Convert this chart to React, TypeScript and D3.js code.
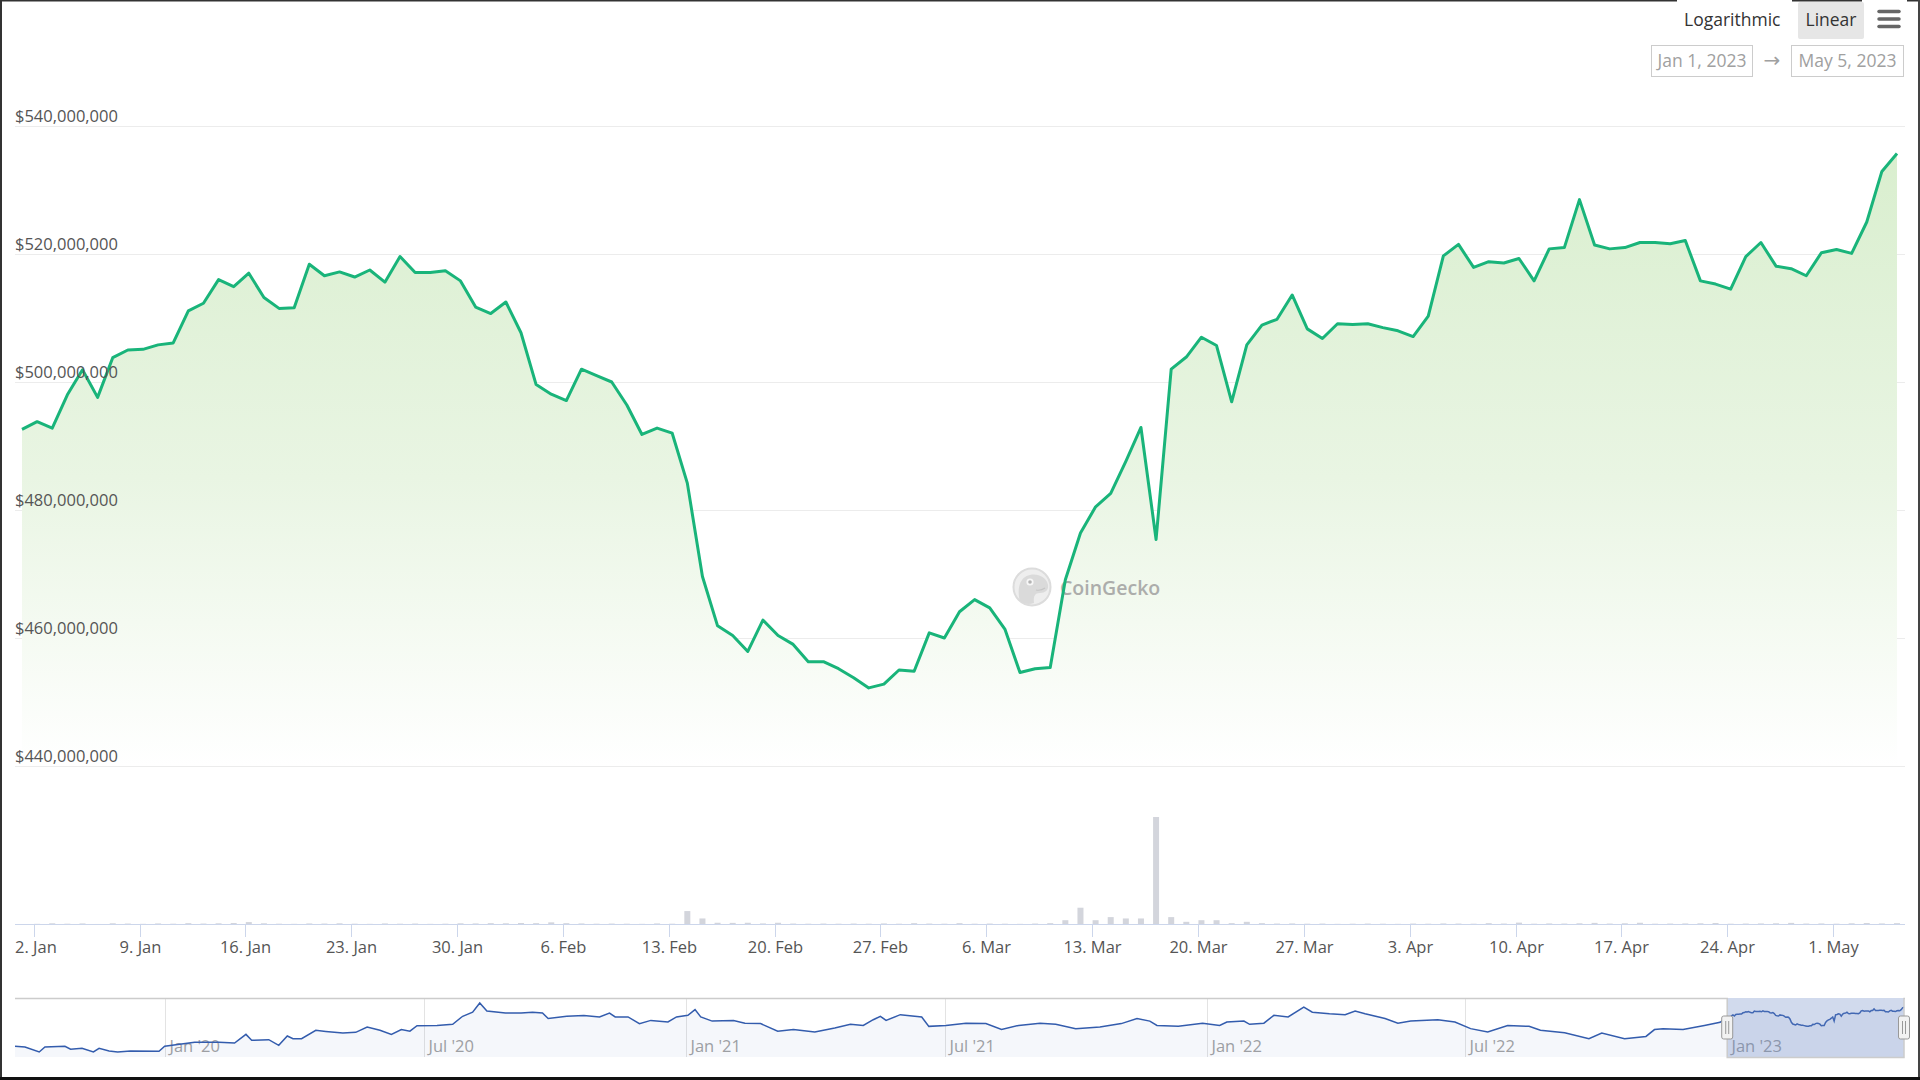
import React from "react";
import * as d3 from "d3";

// ---------- DATA ----------
const START_DATE = "2023-01-01";
// Market cap in $ millions, one value per day (Jan 1 – May 5, 2023)
const marketCapM = [
  // Jan
  492.6, 493.8, 492.8, 498.0, 501.9, 497.6, 503.8, 505.0, 505.1, 505.8, 506.1, 511.1, 512.3, 516.0, 514.9, 517.0,
  513.2, 511.5, 511.6, 518.4, 516.6, 517.2, 516.4, 517.5, 515.6, 519.6, 517.1, 517.1, 517.4, 515.8, 511.7,
  // Feb
  510.7, 512.5, 507.7, 499.6, 498.1, 497.1, 502.0, 501.0, 500.0, 496.4, 491.8, 492.8, 492.0, 484.2, 469.6, 461.9,
  460.4, 457.9, 462.8, 460.4, 459.0, 456.3, 456.3, 455.2, 453.8, 452.2, 452.8, 455.0,
  // Mar
  454.8, 460.8, 460.0, 464.1, 466.0, 464.7, 461.4, 454.6, 455.2, 455.4, 469.1, 476.4, 480.5, 482.6, 487.6, 492.9,
  475.4, 502.0, 503.9, 507.0, 505.7, 496.9, 505.8, 508.9, 509.8, 513.6, 508.3, 506.8, 509.1, 509.0, 509.1,
  // Apr
  508.5, 508.0, 507.1, 510.3, 519.7, 521.5, 517.9, 518.8, 518.6, 519.3, 515.8, 520.8, 521.0, 528.5, 521.4, 520.8,
  521.0, 521.8, 521.8, 521.6, 522.1, 515.8, 515.3, 514.5, 519.6, 521.8, 518.1, 517.7, 516.6, 520.2,
  // May
  520.7, 520.1, 525.0, 532.9, 535.7,
];
// Volume in $ millions, one value per day
const volumeM = [
  0.3, 0.5, 0.9, 0.6, 0.8, 0.4, 0.9, 0.7, 0.5, 0.8, 0.6, 1.0, 0.7, 0.9, 1.1, 1.8, 0.9, 0.6, 0.5, 0.8, 0.7, 0.9,
  0.6, 0.5, 0.8, 0.6, 0.7, 0.5, 0.6, 0.9, 0.8,
  1.0, 0.9, 1.1, 1.0, 1.6, 1.0, 0.8, 0.6, 0.7, 0.6, 0.5, 0.8, 0.6, 10.0, 4.5, 1.3, 1.2, 1.3, 0.8, 1.3, 0.7, 0.6,
  0.7, 0.6, 0.7, 0.6, 0.8, 0.6,
  1.0, 0.7, 0.6, 1.0, 0.6, 0.7, 0.6, 0.5, 0.7, 1.0, 3.2, 12.5, 3.2, 5.5, 4.5, 4.5, 80.0, 5.5, 2.0, 3.2, 3.2, 1.0,
  2.0, 1.0, 0.7, 0.8, 0.6, 0.7, 0.5, 0.6, 0.7,
  0.6, 0.5, 0.7, 0.6, 0.8, 0.7, 0.6, 1.0, 0.7, 1.4, 0.6, 0.8, 0.7, 0.9, 1.2, 0.7, 0.9, 1.3, 0.6, 0.7, 0.8, 0.9,
  1.1, 0.6, 0.7, 0.8, 0.9, 1.2, 0.7, 0.8,
  0.6, 0.9, 1.1, 0.8, 1.0,
];
const yTicksM = [440, 460, 480, 500, 520, 540];
const xTickDates = [
  "2023-01-02", "2023-01-09", "2023-01-16", "2023-01-23", "2023-01-30", "2023-02-06", "2023-02-13", "2023-02-20",
  "2023-02-27", "2023-03-06", "2023-03-13", "2023-03-20", "2023-03-27", "2023-04-03", "2023-04-10", "2023-04-17",
  "2023-04-24", "2023-05-01",
];
const xTickLabels = [
  "2. Jan", "9. Jan", "16. Jan", "23. Jan", "30. Jan", "6. Feb", "13. Feb", "20. Feb", "27. Feb", "6. Mar",
  "13. Mar", "20. Mar", "27. Mar", "3. Apr", "10. Apr", "17. Apr", "24. Apr", "1. May",
];
// Navigator history before 2023 (market cap, $ millions)
const navDates = [
  "2019-09-18", "2019-09-25", "2019-10-05", "2019-10-09", "2019-10-23", "2019-10-27", "2019-11-04", "2019-11-12",
  "2019-11-16", "2019-11-23", "2019-11-29", "2019-12-08", "2019-12-28", "2020-01-01", "2020-01-22", "2020-02-08",
  "2020-02-19", "2020-02-27", "2020-03-02", "2020-03-14", "2020-03-21", "2020-03-27", "2020-03-31", "2020-04-06",
  "2020-04-16", "2020-04-23", "2020-05-05", "2020-05-14", "2020-05-22", "2020-05-31", "2020-06-08", "2020-06-15",
  "2020-06-21", "2020-06-26", "2020-07-10", "2020-07-21", "2020-07-28", "2020-08-04", "2020-08-09", "2020-08-14",
  "2020-08-27", "2020-09-07", "2020-09-15", "2020-09-22", "2020-09-26", "2020-10-09", "2020-10-21", "2020-11-01",
  "2020-11-08", "2020-11-12", "2020-11-21", "2020-11-29", "2020-12-07", "2020-12-19", "2020-12-25", "2021-01-02",
  "2021-01-07", "2021-01-11", "2021-01-19", "2021-02-03", "2021-02-11", "2021-02-22", "2021-03-06", "2021-03-17",
  "2021-04-01", "2021-04-15", "2021-04-26", "2021-05-05", "2021-05-12", "2021-05-17", "2021-05-21", "2021-05-31",
  "2021-06-15", "2021-06-20", "2021-07-02", "2021-07-16", "2021-07-30", "2021-08-10", "2021-08-22", "2021-09-06",
  "2021-09-17", "2021-10-01", "2021-10-18", "2021-11-02", "2021-11-13", "2021-11-22", "2021-11-27", "2021-12-12",
  "2021-12-29", "2022-01-10", "2022-01-15", "2022-01-27", "2022-01-31", "2022-02-10", "2022-02-17", "2022-02-27",
  "2022-03-10", "2022-03-16", "2022-03-28", "2022-04-08", "2022-04-15", "2022-04-22", "2022-05-06", "2022-05-15",
  "2022-05-24", "2022-06-12", "2022-06-24", "2022-07-05", "2022-07-17", "2022-07-31", "2022-08-15", "2022-08-23",
  "2022-09-09", "2022-09-26", "2022-10-05", "2022-10-21", "2022-11-05", "2022-11-11", "2022-11-17", "2022-12-01",
  "2022-12-16", "2022-12-27",
];
const navValuesM = [
  365, 362, 340, 362, 365, 352, 356, 340, 356, 344, 340, 344, 343, 365, 383, 383,
  379, 417, 391, 394, 369, 410, 398, 398, 435, 430, 423, 426, 449, 435, 417, 438,
  431, 455, 456, 461, 496, 514, 554, 519, 510, 510, 514, 510, 486, 496, 499, 493,
  510, 493, 493, 464, 478, 471, 493, 500, 525, 493, 475, 478, 466, 464, 431, 438,
  427, 445, 461, 456, 481, 496, 478, 503, 493, 452, 456, 466, 464, 438, 456, 466,
  461, 442, 449, 464, 486, 475, 456, 452, 466, 456, 471, 475, 461, 466, 500, 493,
  536, 514, 507, 503, 519, 507, 486, 466, 475, 481, 471, 442, 427, 456, 452, 435,
  424, 398, 423, 398, 408, 438, 442, 438, 456, 470,
];
const navTickDates = ["2020-01-01", "2020-07-01", "2021-01-01", "2021-07-01", "2022-01-01", "2022-07-01", "2023-01-01"];
const navTickLabels = ["Jan '20", "Jul '20", "Jan '21", "Jul '21", "Jan '22", "Jul '22", "Jan '23"];
const rangeFrom = "2023-01-01";
const rangeTo = "2023-05-05";

// ---------- HELPERS ----------
const parse = (s: string) => new Date(s + "T00:00:00Z");
const DAY = 86400000;
const TZ_SHIFT = 5.5 * 3600000; // ticks fall on local midnight
const FONT = "'Open Sans', 'Noto Sans', sans-serif";

export default function App() {
  const start = parse(START_DATE);
  const mainData = marketCapM.map((v, i) => ({ date: new Date(start.getTime() + i * DAY), v }));
  const volData = volumeM.map((v, i) => ({ date: new Date(start.getTime() + i * DAY), v }));

  const x = d3.scaleUtc().domain([mainData[0].date, mainData[mainData.length - 1].date]).range([22, 1897]);
  const y = d3.scaleLinear().domain([440, 540]).range([766, 126]);
  const yVol = d3.scaleLinear().domain([0, 80]).range([924.5, 817]);

  const line = d3.line<{ date: Date; v: number }>().x((d) => x(d.date)).y((d) => y(d.v));
  const area = d3
    .area<{ date: Date; v: number }>()
    .x((d) => x(d.date))
    .y0(766)
    .y1((d) => y(d.v));

  const navData = navDates.map((d, i) => ({ date: parse(d), v: navValuesM[i] })).concat(mainData);
  const navX = d3.scaleUtc().domain([parse("2019-09-18"), parse("2023-05-05")]).range([15, 1904]);
  const navY = d3.scaleLinear().domain(d3.extent(navData, (d) => d.v) as [number, number]).range([1052, 1003]);
  const navLine = d3.line<{ date: Date; v: number }>().x((d) => navX(d.date)).y((d) => navY(d.v));
  const navArea = d3
    .area<{ date: Date; v: number }>()
    .x((d) => navX(d.date))
    .y0(1057)
    .y1((d) => navY(d.v));

  const fmt = d3.format(",");
  const mx0 = navX(parse(rangeFrom));
  const mx1 = navX(parse(rangeTo));
  const navTop = 998;
  const navBottom = 1057;

  const handle = (cx: number, key: string) => (
    <g key={key}>
      <rect x={cx - 5.5} y={1016} width={11} height={23} rx={2} fill="#f2f2f2" stroke="#999" strokeWidth={1} />
      <line x1={cx - 1.5} x2={cx - 1.5} y1={1021} y2={1034} stroke="#999" strokeWidth={1} />
      <line x1={cx + 1.5} x2={cx + 1.5} y1={1021} y2={1034} stroke="#999" strokeWidth={1} />
    </g>
  );

  return (
    <div style={{ position: "absolute", left: 0, top: 0 }}>
      <svg width={1920} height={1080} style={{ display: "block", fontFamily: FONT }}>
        <defs>
          <linearGradient id="gfill" gradientUnits="userSpaceOnUse" x1={0} y1={126} x2={0} y2={766}>
            <stop offset="0" stopColor="#d8eecd" />
            <stop offset="0.55" stopColor="#e9f5e3" />
            <stop offset="1" stopColor="#ffffff" />
          </linearGradient>
        </defs>
        <rect x={0} y={0} width={1920} height={1080} fill="#fff" />

        {/* gridlines */}
        {yTicksM.map((t) => (
          <line key={"g" + t} x1={15} x2={1905} y1={Math.round(y(t)) + 0.5} y2={Math.round(y(t)) + 0.5} stroke="#ececec" strokeWidth={1} />
        ))}

        {/* area + watermark + line */}
        <path d={area(mainData) || ""} fill="url(#gfill)" />

        <g opacity={0.85}>
          <circle cx={1032} cy={587} r={18.5} fill="#ececec" stroke="#d6d6d6" strokeWidth={2} />
          <path
            d="M1020 601 C1017 590 1019 577 1030 575 C1040 573 1047 579 1048 585 C1049 590 1045 593 1040 593 C1035 593 1033 596 1034 603 C1029 605 1024 604 1020 601 Z"
            fill="#d4d4d4"
          />
          <circle cx={1030} cy={582} r={3.6} fill="#f6f6f6" />
          <circle cx={1030} cy={582} r={1.8} fill="#a8a8a8" />
          <path d="M1036 590 Q1041 591 1045 588" stroke="#bdbdbd" strokeWidth={1.2} fill="none" />
          <text x={1060} y={595} fontSize={19.5} fontWeight={600} fill="#a0a0a0">
            CoinGecko
          </text>
        </g>

        <path d={line(mainData) || ""} fill="none" stroke="#19b47a" strokeWidth={3} strokeLinejoin="round" />

        {/* y labels */}
        {yTicksM.map((t) => (
          <text key={"yl" + t} x={15} y={y(t) - 4} fontSize={16.5} fill="#555">
            {"$" + fmt(t * 1e6)}
          </text>
        ))}

        {/* volume */}
        {volData.map((d, i) => (
          <rect key={"v" + i} x={x(d.date) - 3} y={yVol(d.v)} width={6} height={924.5 - yVol(d.v)} fill="#d3d5dc" />
        ))}
        <line x1={15} x2={1905} y1={924.5} y2={924.5} stroke="#ccd6eb" strokeWidth={1} />
        {xTickDates.map((d, i) => {
          const tx = Math.round(x(new Date(parse(d).getTime() - TZ_SHIFT))) + 0.5;
          return (
            <g key={"xt" + i}>
              <line x1={tx} x2={tx} y1={925} y2={937} stroke="#ccd6eb" strokeWidth={1} />
              <text
                x={i === 0 ? 15 : tx}
                y={953}
                fontSize={16.5}
                fill="#555"
                textAnchor={i === 0 ? "start" : "middle"}
              >
                {xTickLabels[i]}
              </text>
            </g>
          );
        })}

        {/* navigator */}
        {navTickDates.map((d, i) => {
          const gx = Math.round(navX(parse(d))) + 0.5;
          return (
            <g key={"nt" + i}>
              <line x1={gx} x2={gx} y1={navTop} y2={navBottom} stroke="#e3e3e3" strokeWidth={1} />
              <text x={gx + 4} y={1052} fontSize={16.5} fill="#a3a3a3">
                {navTickLabels[i]}
              </text>
            </g>
          );
        })}
        <path d={navArea(navData) || ""} fill="rgba(51,92,173,0.05)" />
        <path d={navLine(navData) || ""} fill="none" stroke="#335cad" strokeWidth={1.5} />
        <rect x={mx0} y={navTop} width={mx1 - mx0} height={navBottom - navTop} fill="rgba(102,133,194,0.3)" />
        <path
          d={`M15 ${navTop + 0.5} H${mx0} V${navBottom + 0.5} H${mx1} V${navTop + 0.5} H1905`}
          fill="none"
          stroke="#cccccc"
          strokeWidth={1.5}
        />
        {handle(mx0, "h0")}
        {handle(mx1, "h1")}

        {/* top controls */}
        <text x={1684} y={26} fontSize={17.5} fill="#333">
          Logarithmic
        </text>
        <rect x={1798} y={2} width={66} height={37} rx={2} fill="#e6e6e6" />
        <text x={1831} y={26} fontSize={17.5} fill="#333" textAnchor="middle">
          Linear
        </text>
        {[11.5, 19, 26.5].map((ly) => (
          <line key={"m" + ly} x1={1879} x2={1899} y1={ly} y2={ly} stroke="#666" strokeWidth={3.5} strokeLinecap="round" />
        ))}
        <rect x={1651.5} y={45.5} width={101} height={31} fill="#fff" stroke="#cccccc" strokeWidth={1} />
        <text x={1702} y={67} fontSize={17.5} fill="#a0a0a0" textAnchor="middle">
          Jan 1, 2023
        </text>
        <text x={1772} y={67} fontSize={20} fill="#a0a0a0" textAnchor="middle" fontFamily="'DejaVu Sans', sans-serif">
          →
        </text>
        <rect x={1791.5} y={45.5} width={112} height={31} fill="#fff" stroke="#cccccc" strokeWidth={1} />
        <text x={1847.5} y={67} fontSize={17.5} fill="#a0a0a0" textAnchor="middle">
          May 5, 2023
        </text>

        {/* frame */}
        <line x1={0} x2={1677} y1={0.75} y2={0.75} stroke="#333" strokeWidth={1.5} />
        <line x1={1792} x2={1862} y1={0.75} y2={0.75} stroke="#333" strokeWidth={1.5} />
        <line x1={1907} x2={1920} y1={0.75} y2={0.75} stroke="#333" strokeWidth={1.5} />
        <line x1={1} x2={1} y1={0} y2={1080} stroke="#333" strokeWidth={2} />
        <line x1={1919} x2={1919} y1={0} y2={1080} stroke="#444" strokeWidth={2} />
        <line x1={0} x2={1920} y1={1078.5} y2={1078.5} stroke="#111" strokeWidth={3} />
      </svg>
    </div>
  );
}
